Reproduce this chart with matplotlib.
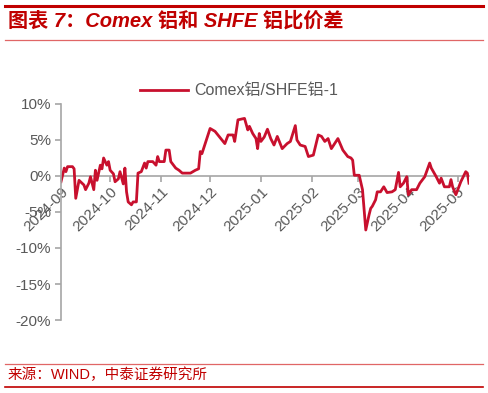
import matplotlib
matplotlib.use("Agg")
import matplotlib.pyplot as plt
import matplotlib.dates as mdates
import pandas as pd
from matplotlib.lines import Line2D

plt.rcParams['font.family'] = ['Liberation Sans', 'Noto Sans CJK SC', 'DejaVu Sans']

# Comex铝/SHFE铝-1 (%)
dates = [
    "2024-09-02", "2024-09-04", "2024-09-05", "2024-09-06", "2024-09-09", "2024-09-10",
    "2024-09-11", "2024-09-13", "2024-09-16", "2024-09-17", "2024-09-19", "2024-09-20",
    "2024-09-22", "2024-09-23", "2024-09-24", "2024-09-26", "2024-09-27", "2024-09-28",
    "2024-09-30", "2024-10-01", "2024-10-02", "2024-10-04", "2024-10-05", "2024-10-07",
    "2024-10-08", "2024-10-10", "2024-10-11", "2024-10-12", "2024-10-13", "2024-10-15",
    "2024-10-16", "2024-10-18", "2024-10-19", "2024-10-21", "2024-10-23", "2024-10-24",
    "2024-10-25", "2024-10-28", "2024-10-30", "2024-10-31", "2024-11-01", "2024-11-04",
    "2024-11-05", "2024-11-07", "2024-11-08", "2024-11-11", "2024-11-13", "2024-11-15",
    "2024-11-20", "2024-11-23", "2024-11-25", "2024-11-26", "2024-11-27", "2024-11-28",
    "2024-12-02", "2024-12-05", "2024-12-11", "2024-12-13", "2024-12-16", "2024-12-17",
    "2024-12-19", "2024-12-23", "2024-12-25", "2024-12-26", "2024-12-28", "2024-12-30",
    "2024-12-31", "2025-01-01", "2025-01-02", "2025-01-04", "2025-01-06", "2025-01-08",
    "2025-01-10", "2025-01-12", "2025-01-15", "2025-01-18", "2025-01-20", "2025-01-23",
    "2025-01-24", "2025-01-26", "2025-01-29", "2025-01-31", "2025-02-03", "2025-02-06",
    "2025-02-08", "2025-02-10", "2025-02-12", "2025-02-14", "2025-02-16", "2025-02-18",
    "2025-02-21", "2025-02-24", "2025-02-26", "2025-02-27", "2025-02-28", "2025-03-03",
    "2025-03-05", "2025-03-07", "2025-03-09", "2025-03-10", "2025-03-11", "2025-03-13",
    "2025-03-14", "2025-03-16", "2025-03-18", "2025-03-20", "2025-03-23", "2025-03-25",
    "2025-03-27", "2025-03-28", "2025-03-30", "2025-04-01", "2025-04-02", "2025-04-04",
    "2025-04-07", "2025-04-09", "2025-04-12", "2025-04-15", "2025-04-16", "2025-04-19",
    "2025-04-21", "2025-04-22", "2025-04-24", "2025-04-27", "2025-04-28", "2025-04-29",
    "2025-05-01", "2025-05-04", "2025-05-07", "2025-05-08", "2025-05-09",
]
spread = [
    -0.8, 1.1, 0.6, 1.3, 1.3, 1.0,
    -3.1, -0.6, -1.25, -1.9, -1.0, -0.1,
    -1.9, 0.8, -0.6, 1.5, 1.0, 2.5,
    1.5, 2.0, 0.8, 0.3, -0.8, -0.4,
    0.6, -1.1, 1.1, -2.2, -3.6, -4.0,
    -3.6, -3.6, 0.4, 0.6, 1.8, 1.1,
    2.0, 2.0, 1.5, 2.7, 2.0, 2.0,
    3.6, 3.6, 2.0, 1.1, 0.8, 0.4,
    0.4, 0.8, 1.0, 3.4, 3.1, 3.8,
    6.6, 6.2, 4.5, 5.7, 5.7, 4.8,
    7.8, 8.0, 6.4, 6.9, 5.9, 5.2,
    3.8, 5.9, 4.8, 5.4, 6.5, 5.2,
    4.3, 5.5, 3.8, 4.5, 4.8, 7.0,
    5.0, 4.3, 4.1, 2.7, 2.9, 5.7,
    5.5, 4.8, 5.2, 3.8, 4.5, 5.2,
    3.6, 2.7, 2.5, 2.2, 0.1, 0.1,
    -1.9, -7.5, -5.4, -4.5, -4.2, -3.3,
    -2.2, -2.2, -1.5, -2.3, -2.2, -1.9,
    0.5, -1.5, -1.0, -0.1, -2.6, -1.9,
    -1.9, -1.0, -0.1, 1.8, 1.1, -0.1,
    -1.0, -0.3, -1.5, -1.5, -0.5, -1.5,
    -2.6, -0.8, 0.6, 0.4, -1.0,
]
month_ticks = ["2024-09-02", "2024-10-02", "2024-11-02", "2024-12-02", "2025-01-02",
               "2025-02-02", "2025-03-02", "2025-04-02", "2025-05-02"]
y_ticks = [-20, -15, -10, -5, 0, 5, 10]

red = '#C00000'
line_red = '#C8102E'
gray = '#595959'
axis_gray = '#A6A6A6'

x = pd.to_datetime(dates)

fig = plt.figure(figsize=(4.88, 3.93), dpi=100)
ax = fig.add_axes([61 / 488, 1 - 320 / 393, 408 / 488, 216 / 393])

ax.plot(x, spread, color=line_red, lw=2.0, solid_joinstyle='round')

ax.set_xlim(pd.Timestamp(dates[0]), pd.Timestamp(dates[-1]))
ax.set_ylim(-20, 10)
ax.set_yticks(y_ticks)
ax.set_yticklabels([f"{v}%" for v in y_ticks])
ax.set_xticks(pd.to_datetime(month_ticks))
ax.xaxis.set_major_formatter(mdates.DateFormatter('%Y-%m'))

for s in ['top', 'right']:
    ax.spines[s].set_visible(False)
ax.spines['bottom'].set_position(('data', 0))
for s in ['left', 'bottom']:
    ax.spines[s].set_color(axis_gray)
    ax.spines[s].set_linewidth(1.2)
ax.spines['bottom'].set_zorder(1)

ax.tick_params(axis='y', colors=axis_gray, labelcolor=gray, labelsize=11,
               length=4, width=1.2, direction='out', pad=3)
ax.tick_params(axis='x', colors=axis_gray, labelcolor=gray, labelsize=11,
               length=4, width=1.2, direction='out', pad=2)
for lab in ax.get_xticklabels():
    lab.set_rotation(45)
    lab.set_ha('right')
    lab.set_va('top')
    lab.set_rotation_mode('anchor')

# legend, centred on the figure
h = Line2D([], [], color=line_red, lw=2.0)
fig.legend([h], ['Comex铝/SHFE铝-1'], loc='center', bbox_to_anchor=(0.49, 1 - 91 / 393),
           frameon=False, fontsize=11.5, labelcolor=gray, handlelength=3.0,
           handletextpad=0.4)

# title block and source
fig.add_artist(Line2D([5 / 488, 483 / 488], [1 - 6 / 393] * 2, color=red, lw=2.2))
fig.text(8 / 488, 1 - 21 / 393, '图表 7：Comex 铝和 SHFE 铝比价差', color=red,
         fontsize=14.5, fontweight='bold', style='italic', va='center', ha='left')
fig.add_artist(Line2D([5 / 488, 483 / 488], [1 - 40 / 393] * 2, color='#E06666', lw=0.9))

fig.add_artist(Line2D([5 / 488, 483 / 488], [1 - 364 / 393] * 2, color='#E06666', lw=0.9))
fig.text(8 / 488, 1 - 375 / 393, '来源：WIND，中泰证券研究所', color=red,
         fontsize=10.5, va='center', ha='left')
fig.add_artist(Line2D([5 / 488, 483 / 488], [1 - 387 / 393] * 2, color=red, lw=1.2))

fig.savefig('out.png', dpi=100)
